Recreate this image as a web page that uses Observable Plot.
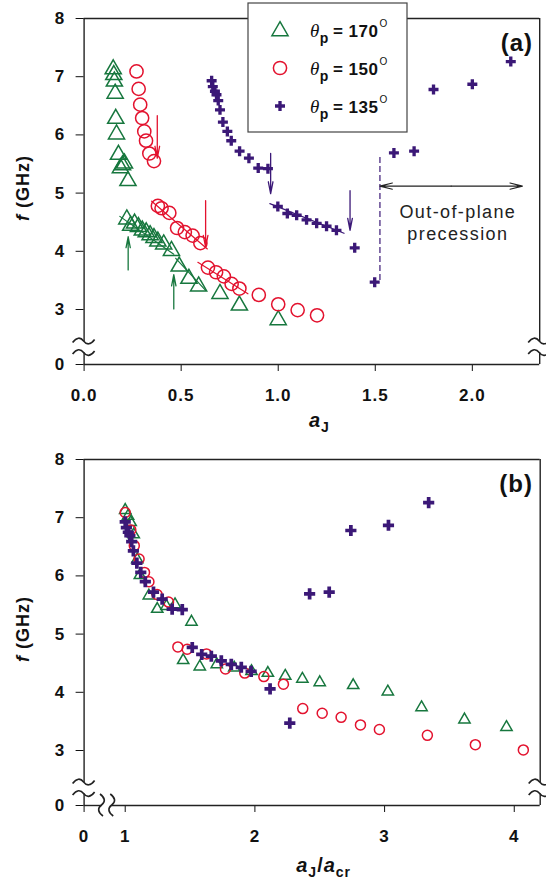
<!DOCTYPE html>
<html><head><meta charset="utf-8">
<script src="https://cdn.jsdelivr.net/npm/d3@7"></script>
<script src="https://cdn.jsdelivr.net/npm/@observablehq/plot@0.6"></script>
<style>
body{margin:0;background:#fff;}
#wrap{width:546px;}
#wrap svg{display:block;}
</style></head><body><div id="wrap"></div>
<script>
// ---------- Panel (a): f vs aJ ----------
const aJ170 = [0.150,0.153,0.156,0.160,0.163,0.167,0.177,0.187,0.198,0.208,0.226,
  0.22,0.24,0.26,0.28,0.30,0.32,0.34,0.36,0.38,0.41,0.45,0.49,0.54,0.59,0.70,0.80,1.00];
const f170 = [7.13,7.03,6.92,6.71,6.28,6.01,5.66,5.43,5.48,5.51,5.21,
  4.55,4.44,4.48,4.42,4.36,4.33,4.28,4.23,4.17,4.12,4.01,3.74,3.53,3.40,3.27,3.07,2.82];
const aJ150 = [0.270,0.281,0.289,0.299,0.310,0.319,0.336,0.360,
  0.380,0.399,0.439,0.479,0.519,0.559,0.599,0.638,0.680,0.720,0.760,0.800,0.900,1.000,1.100,1.200];
const f150 = [7.09,6.79,6.52,6.29,6.06,5.90,5.68,5.55,
  4.78,4.74,4.66,4.40,4.33,4.27,4.14,3.72,3.64,3.57,3.44,3.36,3.25,3.09,2.99,2.90];
const aJ135 = [0.657,0.663,0.674,0.682,0.691,0.700,0.715,0.738,0.758,0.801,0.849,0.897,0.947,
  0.998,1.047,1.095,1.146,1.198,1.249,1.300,1.394,1.497,1.596,1.700,1.80,2.0,2.198];
const f135 = [6.93,6.83,6.75,6.69,6.59,6.43,6.22,6.06,5.90,5.72,5.60,5.43,5.42,
  4.77,4.65,4.62,4.54,4.48,4.43,4.36,4.06,3.47,5.69,5.72,6.78,6.87,7.26];

// ---------- Panel (b): f vs aJ/acr ----------
const r170 = [1.0,1.022,1.042,1.066,1.093,1.113,1.182,1.247,1.318,1.384,1.511,
  1.447,1.575,1.706,1.841,1.974,2.10,2.234,2.366,2.50,2.758,3.025,3.285,3.616,3.94];
const fb170 = [7.13,7.03,6.92,6.71,6.28,6.01,5.66,5.43,5.48,5.51,5.21,
  4.55,4.44,4.48,4.42,4.36,4.33,4.28,4.23,4.17,4.12,4.01,3.74,3.53,3.40];
const r150 = [1.0,1.043,1.07,1.107,1.149,1.183,1.246,1.334,
  1.406,1.478,1.627,1.773,1.922,2.069,2.22,2.369,2.519,2.665,2.814,2.96,3.33,3.70,4.07];
const fb150 = [7.09,6.79,6.52,6.29,6.06,5.90,5.68,5.55,
  4.78,4.74,4.66,4.40,4.33,4.27,4.14,3.72,3.64,3.57,3.44,3.36,3.26,3.10,3.01];
const r135 = [1.0,1.009,1.024,1.036,1.05,1.063,1.09,1.12,1.155,1.218,1.285,1.362,1.44,
  1.517,1.59,1.664,1.741,1.818,1.895,1.971,2.117,2.269,2.422,2.573,2.74,3.03,3.34];
const fb135 = [6.93,6.83,6.75,6.69,6.59,6.43,6.22,6.06,5.90,5.72,5.60,5.43,5.42,
  4.77,4.65,4.62,4.54,4.48,4.43,4.36,4.06,3.47,5.69,5.72,6.78,6.87,7.26];

// ---------- axes ----------
const xTicksA = [0, 0.5, 1.0, 1.5, 2.0];
const xTicksB = [0, 1, 2, 3, 4];
const yTicks = [0, 3, 4, 5, 6, 7, 8];
const yBreak = [1.15, 2.45];     // broken f axis between these values
const xBreakB = [0.5, 0.9];      // broken aJ/acr axis between these values
const xMaxA = 2.347, xMaxB = 4.2, yMax = 8;

// broken-axis warps (value -> compressed axis units)
const warpY = d3.scaleLinear().domain([0, yBreak[0], yBreak[1], yMax]).range([2.055, 2.252, yBreak[1], yMax]);
const warpXB = d3.scaleLinear().domain([0, xBreakB[0], xBreakB[1], xMaxB]).range([0.683, 0.821, xBreakB[1], xMaxB]);
const ident = v => v;

// ---------- annotations in panel (a) ----------
const fit170 = [[0.184, 4.60], [0.462, 3.95]];
const fit170b = [[0.472, 3.88], [0.626, 3.33]];
const fit150a = [[0.348, 4.86], [0.635, 4.04]];
const fit150b = [[0.586, 3.81], [0.844, 3.27]];
const fit135 = [[0.957, 4.82], [1.339, 4.31]];
const arrowsDown = [
  {x: 0.377, y1: 6.33, y2: 5.60, c: "150"},
  {x: 0.626, y1: 4.87, y2: 4.07, c: "150"},
  {x: 0.961, y1: 5.68, y2: 4.99, c: "135"},
  {x: 1.370, y1: 5.04, y2: 4.36, c: "135"}];
const arrowsUp = [
  {x: 0.227, y1: 3.68, y2: 4.25, c: "170"},
  {x: 0.462, y1: 3.01, y2: 3.60, c: "170"}];
const oopX = [1.524, 2.258], oopY = 5.12, oopDash = [3.50, 5.61];

const colors = {"170": "#17773e", "150": "#e3122e", "135": "#3b1877"};
const symbols = {"170": "triangle", "150": "circle", "135": "cross"};
const font = "'Liberation Sans', Arial, sans-serif";

function rows(xs, ys, s) { return xs.map((x, i) => ({x, y: ys[i], s})); }

function dots(data, big, wx) {
  const rA = {"170": 6.0, "150": 6.6, "135": 4.2};
  const rB = {"170": 4.2, "150": 5.0, "135": 4.7};
  const R = big ? rA : rB;
  return ["170", "150", "135"].map(s => Plot.dot(data.filter(d => d.s === s), {
    x: d => wx(d.x), y: d => warpY(d.y), symbol: symbols[s], r: R[s],
    stroke: s === "135" ? "none" : colors[s],
    fill: s === "135" ? colors[s] : "none",
    strokeWidth: 1.5
  }));
}

function frame(xMax, bottomSegs, wx) {
  const vSeg = [{y1: 0, y2: yBreak[0]}, {y1: yBreak[1], y2: yMax}];
  const marks = [];
  for (const xv of [0, xMax]) marks.push(Plot.ruleX(vSeg, {x: () => wx(xv), y1: d => warpY(d.y1), y2: d => warpY(d.y2), stroke: "#222", strokeWidth: 1.4}));
  marks.push(Plot.ruleY([yMax], {y: d => warpY(d), x1: wx(0), x2: wx(xMax), stroke: "#222", strokeWidth: 1.4}));
  marks.push(Plot.ruleY(bottomSegs, {y: () => warpY(0), x1: d => wx(d.x1), x2: d => wx(d.x2), stroke: "#222", strokeWidth: 1.4}));
  return marks;
}

const axisStyle = {fontFamily: font, fontSize: "17px", fontWeight: "bold", letterSpacing: "1px", color: "#111", background: "#fff"};
const yLabel = new Map(yTicks.map(v => [warpY(v), String(v)]));
const yAxis = {domain: [warpY(0), yMax], ticks: yTicks.map(v => warpY(v)), tickFormat: t => yLabel.get(t), tickSize: 8, tickPadding: 11, label: null};

// ---------------- Panel (a) ----------------
const dataA = [...rows(aJ170, f170, "170"), ...rows(aJ150, f150, "150"), ...rows(aJ135, f135, "135")];
const lineData = (pts, s) => pts.map(([x, y]) => ({x, y, s}));

const plotA = Plot.plot({
  width: 546, height: 440,
  marginLeft: 83.6, marginRight: 6.8, marginTop: 18, marginBottom: 76,
  style: axisStyle,
  x: {domain: [0, xMaxA], ticks: xTicksA, tickFormat: d3.format(".1f"), tickSize: 7, tickPadding: 17, label: null},
  y: yAxis,
  marks: [
    ...frame(xMaxA, [{x1: 0, x2: xMaxA}], ident),
    ...[[fit170, "170"], [fit170b, "170"], [fit150a, "150"], [fit150b, "150"], [fit135, "135"]].map(([p, s]) =>
      Plot.line(lineData(p, s), {x: "x", y: d => warpY(d.y), stroke: colors[s], strokeWidth: 1.2})),
    Plot.arrow([...arrowsDown, ...arrowsUp], {x: "x", y1: d => warpY(d.y1), y2: d => warpY(d.y2), stroke: d => colors[d.c], strokeWidth: 1.3, headAngle: 22, headLength: 14}),
    Plot.ruleX([oopX[0]], {y1: warpY(oopDash[0]), y2: warpY(oopDash[1]), stroke: colors["135"], strokeWidth: 1.2, strokeDasharray: "6,3"}),
    Plot.arrow([{a: (oopX[0] + oopX[1]) / 2, b: oopX[0]}, {a: (oopX[0] + oopX[1]) / 2, b: oopX[1]}],
      {x1: "a", x2: "b", y: () => warpY(oopY), stroke: "#222", strokeWidth: 1.2, headAngle: 28, headLength: 16}),
    ...dots(dataA, true, ident)
  ]
});

// ---------------- Panel (b) ----------------
const dataB = [...rows(r170, fb170, "170"), ...rows(r150, fb150, "150"), ...rows(r135, fb135, "135")];
const xLabelB = new Map(xTicksB.map(v => [warpXB(v), String(v)]));
const plotB = Plot.plot({
  width: 546, height: 439,
  marginLeft: 83.6, marginRight: 6.3, marginTop: 19, marginBottom: 74,
  style: axisStyle,
  x: {domain: [warpXB(0), xMaxB], ticks: xTicksB.map(v => warpXB(v)), tickFormat: t => xLabelB.get(t), tickSize: 7, tickPadding: 17, label: null},
  y: yAxis,
  marks: [
    ...frame(xMaxB, [{x1: 0, x2: xBreakB[0]}, {x1: xBreakB[1], x2: xMaxB}], warpXB),
    ...dots(dataB, false, warpXB)
  ]
});

document.getElementById("wrap").append(plotA, plotB);

// ---------- decorations drawn with the plots' own scales ----------
function squiggleH(g, cx, cy) {
  g.append("path").attr("d", `M${cx - 11},${cy + 1.5} C${cx - 7},${cy - 4} ${cx - 3},${cy - 4} ${cx},${cy} S${cx + 7},${cy + 4} ${cx + 11},${cy - 1.5}`)
    .attr("fill", "none").attr("stroke", "#222").attr("stroke-width", 1.6);
}
function squiggleV(g, cx, cy) {
  g.append("path").attr("d", `M${cx - 1.5},${cy - 11} C${cx + 4},${cy - 7} ${cx + 4},${cy - 3} ${cx},${cy} S${cx - 4},${cy + 7} ${cx + 1.5},${cy + 11}`)
    .attr("fill", "none").attr("stroke", "#222").attr("stroke-width", 1.6);
}
function richText(g, x, y, parts, attrs = {}) {
  const t = g.append("text").attr("x", x).attr("y", y).attr("font-family", font).attr("fill", "#111").attr("text-anchor", "start");
  for (const [k, v] of Object.entries(attrs)) t.attr(k, v);
  for (const p of parts) {
    const ts = t.append("tspan").text(p.t);
    for (const [k, v] of Object.entries(p.a || {})) ts.attr(k, v);
  }
  return t;
}

function decorate(plot, isA) {
  const sx = plot.scale("x"), sy = plot.scale("y");
  const wx = isA ? ident : warpXB;
  const g = d3.select(plot).append("g");
  const xl = sx.apply(wx(0)), xr = sx.apply(wx(isA ? xMaxA : xMaxB));
  for (const xv of [xl, xr]) for (const yb of yBreak) squiggleH(g, xv, sy.apply(warpY(yb)));
  if (!isA) for (const xb of xBreakB) squiggleV(g, sx.apply(warpXB(xb)), sy.apply(warpY(0)));
  // y title
  const yc = (sy.apply(warpY(yMax)) + sy.apply(warpY(0))) / 2 - 3;
  richText(g, 0, 0, [
    {t: "f", a: {"font-style": "italic"}},
    {t: " (GHz)"}], {"font-size": 18, "font-weight": "bold", "text-anchor": "middle", transform: `translate(29,${yc}) rotate(-90)`, "letter-spacing": "1px"});
  // panel label
  richText(g, 533, isA ? 51 : 52, [{t: isA ? "(a)" : "(b)"}], {"font-size": 24, "font-weight": "bold", "text-anchor": "end"});
  // x title
  const xc = (xl + xr) / 2;
  if (isA) {
    richText(g, xc + 8, 427, [
      {t: "a", a: {"font-style": "italic"}},
      {t: "J", a: {"font-size": 14, dy: 5}}], {"font-size": 20, "font-weight": "bold", "text-anchor": "middle"});
  } else {
    richText(g, xc + 12, 432, [
      {t: "a", a: {"font-style": "italic"}},
      {t: "J", a: {"font-size": 14, dy: 5}},
      {t: "/", a: {dy: -5}},
      {t: "a", a: {"font-style": "italic"}},
      {t: "cr", a: {"font-size": 14, dy: 5}}], {"font-size": 20, "font-weight": "bold", "text-anchor": "middle"});
  }
  return g;
}
const gA = decorate(plotA, true);
decorate(plotB, false);

// ---------- legend of panel (a) ----------
const legendLabels = ["170", "150", "135"];
const box = {x: 248, y: 3, w: 159, h: 129};
gA.append("rect").attr("x", box.x).attr("y", box.y).attr("width", box.w).attr("height", box.h)
  .attr("fill", "#fff").attr("stroke", "#444").attr("stroke-width", 1.2);
const legendSizes = {"170": Math.PI * 36, "150": Math.PI * 6.6 * 6.6, "135": Math.PI * 4.2 * 4.2};
const d3sym = {"170": d3.symbolTriangle, "150": d3.symbolCircle, "135": d3.symbolCross};
legendLabels.forEach((s, i) => {
  const cy = 30 + i * 38;
  gA.append("path").attr("d", d3.symbol(d3sym[s], legendSizes[s])())
    .attr("transform", `translate(280,${cy + (s === "170" ? 1 : 0)})`)
    .attr("fill", s === "135" ? colors[s] : "none").attr("stroke", s === "135" ? "none" : colors[s]).attr("stroke-width", 1.5);
  richText(gA, 310, cy + 7, [
    {t: "θ", a: {"font-family": "'Liberation Serif', 'Times New Roman', serif", "font-style": "italic", "font-weight": "normal", "font-size": 19}},
    {t: "p", a: {"font-size": 14, dy: 6}},
    {t: "= " + s, a: {dx: 4, dy: -6}},
    {t: "O", a: {"font-size": 10, "font-weight": "normal", dy: -10, dx: 1}}], {"font-size": 17, "font-weight": "bold", "letter-spacing": "0.5px"});
});

// ---------- "Out-of-plane precession" ----------
{
  const sx = plotA.scale("x"), sy = plotA.scale("y");
  const cx = sx.apply(1.928);
  const attrs = {"font-size": 18, "font-weight": "normal", "text-anchor": "middle", "letter-spacing": "1.4px", fill: "#222"};
  richText(gA, cx, sy.apply(warpY(4.57)), [{t: "Out-of-plane"}], attrs);
  richText(gA, cx, sy.apply(warpY(4.18)), [{t: "precession"}], attrs);
}
</script>
</body></html>
